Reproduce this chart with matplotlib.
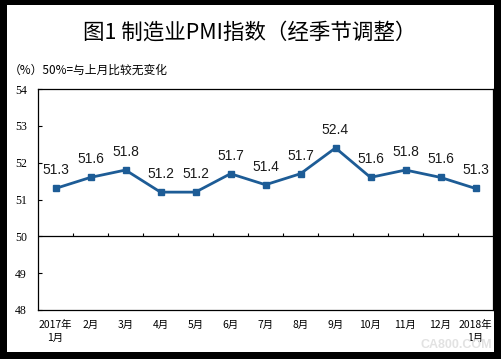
import matplotlib
matplotlib.use("Agg")
import matplotlib.pyplot as plt
from matplotlib.patches import Rectangle

plt.rcParams['font.family'] = ['Noto Sans CJK SC', 'DejaVu Sans']

months = ["2017年\n1月", "2月", "3月", "4月", "5月", "6月", "7月", "8月",
          "9月", "10月", "11月", "12月", "2018年\n1月"]
pmi = [51.3, 51.6, 51.8, 51.2, 51.2, 51.7, 51.4, 51.7, 52.4, 51.6, 51.8, 51.6, 51.3]
yticks = [48, 49, 50, 51, 52, 53, 54]
title = "图1 制造业PMI指数（经季节调整）"
subtitle = "（%）50%=与上月比较无变化"

fig = plt.figure(figsize=(5.02, 3.59), dpi=100)
fig.patch.set_facecolor("black")
fig.add_artist(Rectangle((7/502, 1 - 352/359), (494-7)/502, (352-5)/359,
                         transform=fig.transFigure, facecolor="white",
                         edgecolor="none", zorder=0))

ax = fig.add_axes([38/502, 1 - 310/359, (493-38)/502, (310-89)/359])
ax.set_facecolor("white")
x = list(range(len(pmi)))
ax.plot(x, pmi, color="#1d5c96", lw=2, marker="s", markersize=4, zorder=3)
for xi, v in zip(x, pmi):
    ax.annotate(f"{v:.1f}", (xi, v), xytext=(0, 13), textcoords="offset points",
                ha="center", va="center", fontsize=10, family="Liberation Sans",
                color="#1a1a1a")

ax.set_xlim(-0.5, len(pmi) - 0.5)
ax.set_ylim(48, 54)
ax.set_yticks(yticks)
ax.set_yticklabels([str(t) for t in yticks], family="Liberation Serif", fontsize=8.5)
ax.tick_params(axis="y", direction="in", length=3, width=0.8, pad=8)
ax.set_xticks(x)
ax.set_xticklabels(months, fontsize=7.5, linespacing=1.4)
ax.tick_params(axis="x", length=0, pad=7)
for s in ax.spines.values():
    s.set_linewidth(0.9)

ax.axhline(50, color="black", lw=0.9, zorder=2)
ax.vlines([i + 0.5 for i in range(len(pmi) - 1)], 50, 50.1, color="black", lw=0.8)

fig.text(250/502, 1 - 33/359, title, ha="center", va="center", fontsize=15.5,
         fontweight="medium")
fig.text(9/502, 1 - 70/359, subtitle, ha="left", va="center", fontsize=8.5)
fig.text(492/502, 1 - 345/359, "CA800.COM", ha="right", va="center", fontsize=9,
         color="#e2e2e2", family="Liberation Sans", fontweight="bold")

fig.savefig("out.png", dpi=100, facecolor="black")
